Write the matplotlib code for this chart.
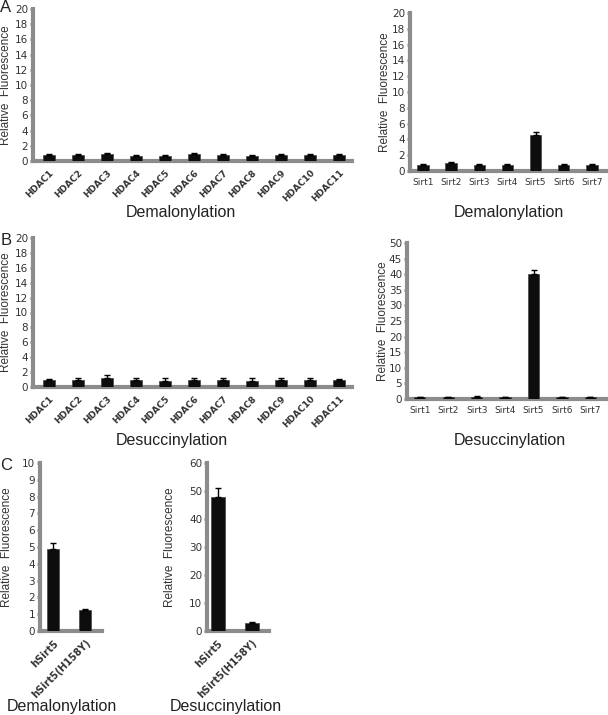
import matplotlib
matplotlib.use("Agg")
import matplotlib.pyplot as plt
import numpy as np

W, H = 608, 715

hdac_labels = ["HDAC1", "HDAC2", "HDAC3", "HDAC4", "HDAC5", "HDAC6", "HDAC7",
               "HDAC8", "HDAC9", "HDAC10", "HDAC11"]
sirt_labels = ["Sirt1", "Sirt2", "Sirt3", "Sirt4", "Sirt5", "Sirt6", "Sirt7"]
sirt5_labels = ["hSirt5", "hSirt5(H158Y)"]

hdac_malonyl = [0.8, 0.8, 0.9, 0.7, 0.7, 0.9, 0.8, 0.7, 0.8, 0.8, 0.8]
hdac_malonyl_err = [0.1, 0.1, 0.1, 0.1, 0.1, 0.1, 0.1, 0.1, 0.1, 0.1, 0.1]
sirt_malonyl = [0.8, 1.0, 0.8, 0.8, 4.6, 0.8, 0.8]
sirt_malonyl_err = [0.1, 0.1, 0.1, 0.1, 0.4, 0.1, 0.1]

hdac_succinyl = [1.0, 1.0, 1.2, 0.9, 0.8, 0.9, 0.9, 0.8, 0.9, 0.9, 0.9]
hdac_succinyl_err = [0.1, 0.2, 0.4, 0.3, 0.4, 0.3, 0.3, 0.4, 0.3, 0.3, 0.2]
sirt_succinyl = [0.5, 0.5, 0.8, 0.5, 40.0, 0.5, 0.5]
sirt_succinyl_err = [0.2, 0.2, 0.2, 0.2, 1.5, 0.2, 0.2]

c_malonyl = [4.9, 1.25]
c_malonyl_err = [0.35, 0.05]
c_succinyl = [48.0, 2.7]
c_succinyl_err = [3.0, 0.4]

fig = plt.figure(figsize=(W / 100, H / 100), dpi=100)
plt.rcParams['font.family'] = ['DejaVu Sans']
ARIAL = ['Liberation Sans', 'DejaVu Sans']

GRAY = "#8c8c8c"
TXT = "#333333"
BAR = "#0d0d0d"


def make(px, vals, errs, labels, ylim, yticks, xlim, width, rot, ylab_px,
         xlab_size=6.5):
    x0, yt, x1, yb = px
    ax = fig.add_axes([x0 / W, 1 - yb / H, (x1 - x0) / W, (yb - yt) / H])
    x = np.arange(len(vals))
    ax.bar(x, vals, width=width, color=BAR, edgecolor="#444444", linewidth=0.5,
           yerr=[np.zeros(len(errs)), errs], capsize=2.5,
           error_kw=dict(ecolor="black", elinewidth=1, capthick=1), zorder=3)
    ax.set_xlim(*xlim)
    ax.set_ylim(*ylim)
    ax.set_yticks(yticks)
    ax.set_yticklabels([str(t) for t in yticks], fontsize=7.5, color=TXT)
    ax.set_xticks(x)
    if rot:
        ax.set_xticklabels(labels, rotation=45, ha="right", rotation_mode="anchor",
                           fontsize=xlab_size, fontweight="bold", color=TXT)
    else:
        ax.set_xticklabels(labels, fontsize=6.5, color=TXT)
    for s in ["top", "right"]:
        ax.spines[s].set_visible(False)
    for s in ["left", "bottom"]:
        ax.spines[s].set_color(GRAY)
        ax.spines[s].set_linewidth(3)
    ax.tick_params(axis="y", direction="out", length=2.5, width=2, color=GRAY, pad=1)
    ax.tick_params(axis="x", length=0, pad=5)
    ax.set_ylabel("Relative  Fluorescence", fontsize=8.5, color=TXT, family=ARIAL)
    ax.yaxis.set_label_coords((ylab_px - x0) / (x1 - x0), 0.5)
    return ax


# Panel A left
make((33, 9, 352, 161), hdac_malonyl, hdac_malonyl_err, hdac_labels,
     (0, 20), list(range(0, 21, 2)), (-0.55, 10.45), 0.42, True, 12)
# Panel A right
make((410, 13, 606, 171), sirt_malonyl, sirt_malonyl_err, sirt_labels,
     (0, 20), list(range(0, 21, 2)), (-0.46, 6.5), 0.4, False, 391)
# Panel B left
make((33, 238, 352, 387), hdac_succinyl, hdac_succinyl_err, hdac_labels,
     (0, 20), list(range(0, 21, 2)), (-0.55, 10.45), 0.42, True, 12)
# Panel B right
make((407, 243, 606, 399), sirt_succinyl, sirt_succinyl_err, sirt_labels,
     (0, 50), list(range(0, 51, 5)), (-0.45, 6.55), 0.4, False, 389)
# Panel C left
make((40, 463, 102, 631), c_malonyl, c_malonyl_err, sirt5_labels,
     (0, 10), list(range(0, 11, 1)), (-0.41, 1.53), 0.4, True, 13, xlab_size=7)
# Panel C right
make((207, 463, 269, 631), c_succinyl, c_succinyl_err, sirt5_labels,
     (0, 60), list(range(0, 61, 10)), (-0.32, 1.5), 0.42, True, 176, xlab_size=7)


def ftext(x, y, s, size, **kw):
    fig.text(x / W, 1 - y / H, s, fontsize=size, color="#222222", ha="center",
             va="center", family=ARIAL, **kw)

ftext(181, 213, "Demalonylation", 11.5)
ftext(509, 212, "Demalonylation", 11.5)
ftext(172, 440, "Desuccinylation", 11.5)
ftext(510, 441, "Desuccinylation", 11.5)
ftext(62, 707, "Demalonylation", 11.5)
ftext(226, 707, "Desuccinylation", 11.5)

ftext(6, 7, "A", 12)
ftext(6, 241, "B", 12)
ftext(6, 466, "C", 12)

fig.savefig("out.png", dpi=100)
